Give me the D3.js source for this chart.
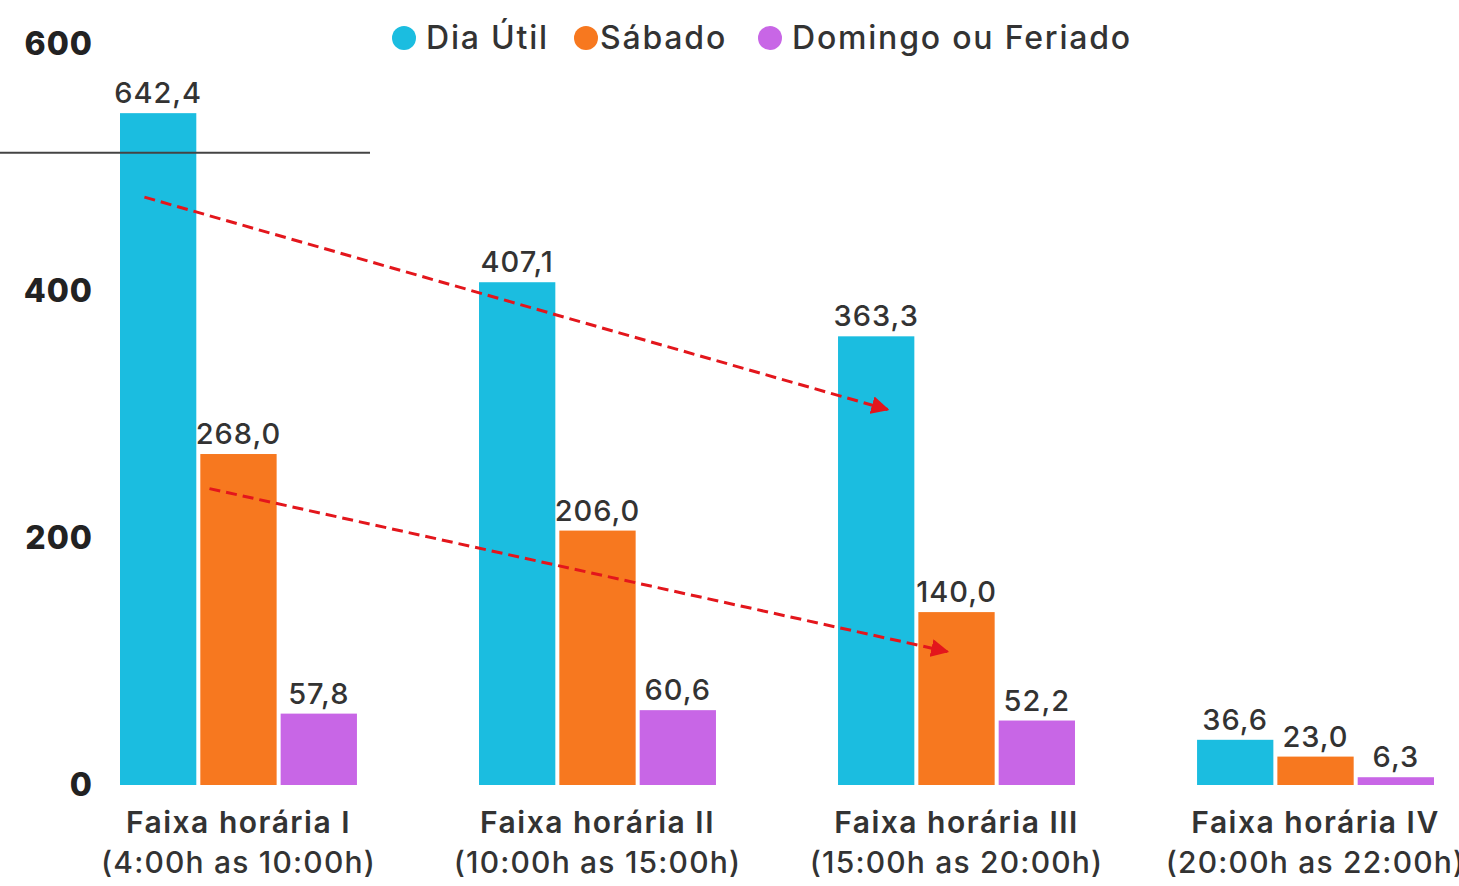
<!DOCTYPE html>
<html>
<head>
<meta charset="utf-8">
<script src="https://cdn.jsdelivr.net/npm/d3@7"></script>
<style>
  html, body { margin: 0; padding: 0; background: #fff; overflow: hidden; }
  text { font-family: Inter, "Noto Sans", sans-serif; fill: #333; }
</style>
</head>
<body>
<div id="chart"></div>
<script>
// data
const categories = ["Faixa horária I", "Faixa horária II", "Faixa horária III", "Faixa horária IV"];
const subLabels = ["(4:00h as 10:00h)", "(10:00h as 15:00h)", "(15:00h as 20:00h)", "(20:00h as 22:00h)"];
const seriesNames = ["Dia Útil", "Sábado", "Domingo ou Feriado"];
const diaUtil = [642.4, 407.1, 363.3, 36.6];
const sabado = [268.0, 206.0, 140.0, 23.0];
const domingo = [57.8, 60.6, 52.2, 6.3];
const yTicks = [0, 200, 400, 600];
// bar I of Dia Útil is drawn cut off at this value (broken axis)
const yCap = 544;
const breakValue = 512;
// dashed trend arrows: [category, series, fraction across bar, value]
const arrows = [
    { from: [0, 0, 0.32, 476], to: [2, 0, 0.65, 304] },
    { from: [0, 1, 0.12, 240], to: [2, 1, 0.38, 108] }
];

const colors = ["#1bbde0", "#f7781f", "#c866e6"];

const width = 1459, height = 886;
const margin = { top: 44, left: 120, right: 25, bottom: 101 };

const svg = d3.select("#chart").append("svg")
    .attr("width", width)
    .attr("height", height);

const rows = categories.map((c, i) => ({
    cat: c,
    values: [diaUtil[i], sabado[i], domingo[i]]
}));

// scales
const x0 = d3.scaleBand()
    .domain(categories)
    .range([margin.left, width - margin.right])
    .paddingInner(0.34)
    .paddingOuter(0);

const x1 = d3.scaleBand()
    .domain(seriesNames)
    .range([0, x0.bandwidth()])
    .paddingInner(0.05);

const y = d3.scaleLinear()
    .domain([0, 600])
    .range([height - margin.bottom, margin.top]);

const fmt = v => d3.format(".1f")(v).replace(".", ",");

// y axis labels
svg.append("g").selectAll("text")
    .data(yTicks)
    .join("text")
    .attr("x", 93)
    .attr("y", d => y(d) + 2)
    .attr("text-anchor", "end")
    .attr("dominant-baseline", "middle")
    .style("font-size", "32px")
    .style("font-weight", 800)
    .style("letter-spacing", "1px")
    .style("fill", "#222")
    .text(d => d);

// bars
const groups = svg.append("g").selectAll("g")
    .data(rows)
    .join("g")
    .attr("transform", d => `translate(${x0(d.cat)},0)`);

groups.selectAll("rect")
    .data(d => d.values.map((v, j) => ({ key: seriesNames[j], v: v, j: j })))
    .join("rect")
    .attr("x", d => x1(d.key))
    .attr("y", d => y(Math.min(d.v, yCap)))
    .attr("width", x1.bandwidth())
    .attr("height", d => y(0) - y(Math.min(d.v, yCap)))
    .attr("fill", d => colors[d.j]);

groups.selectAll("text.val")
    .data(d => d.values.map((v, j) => ({ key: seriesNames[j], v: v, j: j })))
    .join("text")
    .attr("class", "val")
    .attr("x", d => x1(d.key) + x1.bandwidth() / 2)
    .attr("y", d => y(Math.min(d.v, yCap)) - 10)
    .attr("text-anchor", "middle")
    .style("font-size", "29px")
    .style("font-weight", 500)
    .style("letter-spacing", "1px")
    .text(d => fmt(d.v));

// axis break line
svg.append("line")
    .attr("x1", 0)
    .attr("x2", 370)
    .attr("y1", y(breakValue))
    .attr("y2", y(breakValue))
    .attr("stroke", "#444")
    .attr("stroke-width", 2);

// category labels
const labels = svg.append("g").selectAll("g")
    .data(categories)
    .join("g")
    .attr("transform", d => `translate(${x0(d) + x0.bandwidth() / 2},0)`);

labels.append("text")
    .attr("y", 833)
    .attr("text-anchor", "middle")
    .style("font-size", "30px")
    .style("font-weight", 600)
    .style("letter-spacing", "1.5px")
    .text(d => d);

labels.append("text")
    .attr("y", 873)
    .attr("text-anchor", "middle")
    .style("font-size", "30px")
    .style("font-weight", 500)
    .style("letter-spacing", "1.2px")
    .text((d, i) => subLabels[i]);

// arrows
const defs = svg.append("defs");
defs.append("marker")
    .attr("id", "head")
    .attr("viewBox", "0 0 10 10")
    .attr("refX", 9)
    .attr("refY", 5)
    .attr("markerWidth", 6)
    .attr("markerHeight", 6)
    .attr("markerUnits", "strokeWidth")
    .attr("orient", "auto")
    .append("path")
    .attr("d", "M0,0 L10,5 L0,10 Z")
    .attr("fill", "#e3161c");

const pt = p => [x0(categories[p[0]]) + x1(seriesNames[p[1]]) + p[2] * x1.bandwidth(), y(p[3])];

svg.append("g").selectAll("line")
    .data(arrows)
    .join("line")
    .attr("x1", d => pt(d.from)[0])
    .attr("y1", d => pt(d.from)[1])
    .attr("x2", d => pt(d.to)[0])
    .attr("y2", d => pt(d.to)[1])
    .attr("stroke", "#e3161c")
    .attr("stroke-width", 3)
    .attr("stroke-dasharray", "11,6")
    .attr("marker-end", "url(#head)");

// legend
const legendX = [404, 586, 770];
const legend = svg.append("g").selectAll("g")
    .data(seriesNames)
    .join("g")
    .attr("transform", (d, i) => `translate(${legendX[i]},38)`);

legend.append("circle")
    .attr("r", 12)
    .attr("fill", (d, i) => colors[i]);

legend.append("text")
    .attr("x", (d, i) => i == 1 ? 14 : 22)
    .attr("y", 2)
    .attr("dominant-baseline", "middle")
    .style("font-size", "32px")
    .style("font-weight", 500)
    .style("letter-spacing", "1.8px")
    .text(d => d);
</script>
</body>
</html>
